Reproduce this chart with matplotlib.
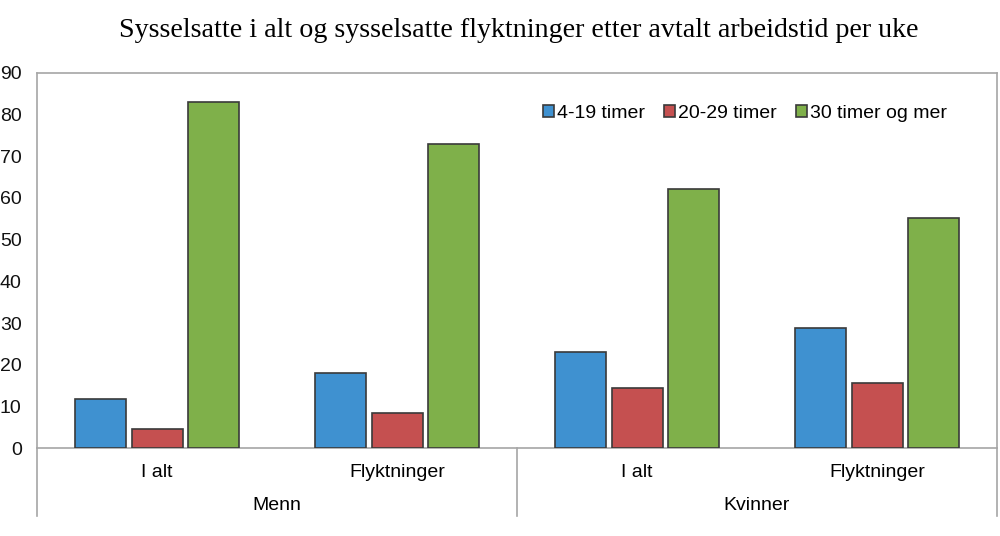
import numpy as np
import matplotlib
matplotlib.use("Agg")
import matplotlib.pyplot as plt

# data
grupper = ["Menn", "Kvinner"]
kategorier = ["I alt", "Flyktninger", "I alt", "Flyktninger"]
serier = ["4-19 timer", "20-29 timer", "30 timer og mer"]
timer_4_19 = [11.8, 18.1, 23.1, 28.7]
timer_20_29 = [4.6, 8.5, 14.3, 15.5]
timer_30_pluss = [83.1, 73.0, 62.1, 55.3]
y_ticks = [0, 10, 20, 30, 40, 50, 60, 70, 80, 90]

farger = ["#3f91d0", "#c55050", "#7fb04a"]
kant = "#3a3a3a"
graa = "#a6a6a6"

plt.rcParams["font.family"] = ["Liberation Sans", "DejaVu Sans"]
plt.rcParams["font.size"] = 14

fig = plt.figure(figsize=(10, 5.36), dpi=100)
ax = fig.add_axes([0.037, 0.164, 0.96, 0.700])

x = np.arange(len(kategorier))
bredde = 0.2125
avstand = 0.235
for i, (verdier, navn) in enumerate(zip([timer_4_19, timer_20_29, timer_30_pluss], serier)):
    ax.bar(x + (i - 1) * avstand, verdier, width=bredde, color=farger[i],
           edgecolor=kant, linewidth=1.2, label=navn, zorder=3)

ax.set_xlim(-0.5, len(kategorier) - 0.5)
ax.set_ylim(0, 90)
ax.set_yticks(y_ticks)
ax.tick_params(axis="y", length=0, pad=11, labelsize=14, colors="#111111")
ax.set_xticks([])
for s in ax.spines.values():
    s.set_color(graa)
    s.set_linewidth(1.2)

# kategori- og gruppetekster under aksen
trans = ax.get_xaxis_transform()
for xi, navn in zip(x, kategorier):
    ax.text(xi, -0.064, navn, transform=trans, ha="center", va="center", fontsize=14)
for gi, navn in enumerate(grupper):
    ax.text(gi * 2 + 0.5, -0.152, navn, transform=trans, ha="center", va="center", fontsize=14)
for xl in [-0.5, 1.5, 3.5]:
    ax.plot([xl, xl], [0, -0.181], transform=trans, color=graa, linewidth=1.2, clip_on=False)

ax.legend(loc="center", bbox_to_anchor=(0.7375, 0.893), ncol=3, frameon=False,
          handlelength=0.55, handleheight=0.55, handletextpad=0.15, columnspacing=1.0,
          fontsize=14)

fig.text(0.519, 0.944, "Sysselsatte i alt og sysselsatte flyktninger etter avtalt arbeidstid per uke",
         ha="center", va="center", fontsize=20.2, family="Liberation Serif")

fig.savefig("out.png", dpi=100)
